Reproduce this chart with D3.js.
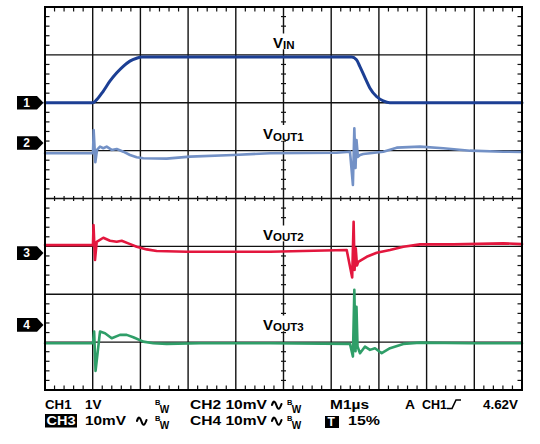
<!DOCTYPE html>
<html><head><meta charset="utf-8">
<script src="https://cdn.jsdelivr.net/npm/d3@7"></script>
<style>
html,body{margin:0;padding:0;background:#fff;}
text{font-family:"Liberation Sans",Arial,sans-serif;font-weight:bold;}
</style></head>
<body>
<svg id="c" width="540" height="444"></svg>
<script>
// ---- Data (time in µs, M1µs = 1 µs/div) ----
const ch1T = [0, 1.00, 1.08, 1.22, 1.36, 1.50, 1.64, 1.78, 1.92, 2.03, 6.43, 6.53, 6.60, 6.71, 6.81, 6.95, 7.09, 7.23, 10];
const ch1V = [0, 0, 0.06, 0.24, 0.45, 0.62, 0.76, 0.87, 0.93, 0.955, 0.955, 0.90, 0.76, 0.52, 0.31, 0.13, 0.04, 0, 0]; // V, CH1 1V/div

const ch2T = [0, 1.006, 1.020, 1.055, 1.09, 1.153, 1.222, 1.293, 1.398, 1.503, 1.642, 1.782, 1.922, 2.061, 2.551, 3.04, 3.948, 4.717, 6.115, 6.394, 6.455, 6.485, 6.510, 6.530, 6.560, 6.604, 6.673, 7.092, 7.373, 7.862, 8.350, 8.910, 9.608, 10];
const ch2V = [-2.15, -2.15, 2.72, -4.03, -1.46, -0.77, -1.11, -0.77, -1.46, -1.25, -1.82, -2.51, -2.99, -3.20, -3.28, -2.86, -2.51, -2.15, -2.03, -1.82, -8.77, 3.07, -5.22, 0.63, -2.9, -2.51, -2.30, -1.82, -0.98, -0.77, -1.11, -1.61, -1.82, -1.88]; // mV, 10mV/div

const ch3T = [0, 1.006, 1.017, 1.048, 1.084, 1.222, 1.363, 1.503, 1.608, 1.746, 1.922, 2.132, 2.342, 2.971, 4.717, 6.325, 6.440, 6.470, 6.490, 6.515, 6.540, 6.568, 6.744, 6.954, 7.233, 7.512, 7.862, 8.56, 9.608, 10];
const ch3V = [1.67, 1.67, 5.85, -1.46, 2.36, 3.20, 2.57, 2.36, 2.57, 2.03, 1.32, 0.77, 0.42, 0.27, 0.27, 0.63, -5.08, 6.54, -3.5, 1.0, -2.6, -1.82, -0.77, 0.06, 0.63, 1.32, 1.82, 1.82, 2.03, 1.88];

const ch4T = [0, 1.006, 1.03, 1.06, 1.153, 1.258, 1.398, 1.572, 1.713, 1.851, 2.061, 2.27, 2.551, 3.25, 4.717, 6.394, 6.455, 6.485, 6.510, 6.530, 6.552, 6.604, 6.709, 6.813, 6.918, 7.059, 7.233, 7.512, 7.862, 8.910, 10];
const ch4V = [-3.82, -3.82, -1.40, -9.61, -1.40, -1.73, -2.78, -2.09, -2.09, -2.57, -3.49, -3.82, -3.97, -3.82, -3.82, -3.97, -6.62, 7.31, -5.5, 3.8, -4.53, -5.91, -4.53, -5.22, -4.87, -5.91, -4.87, -3.97, -3.70, -3.82, -3.82];

// channel settings: ground marker position (divisions from centre), units per division
const channels = ["1", "2", "3", "4"];
const markerDiv = [2.0, 1.16, -1.14, -2.64];
const perDiv = [1, 10, 10, 10];
const colors = ["#1c3f94", "#7391c6", "#e3173e", "#2f9e68"];
const traceLabels = [["V", "IN"], ["V", "OUT1"], ["V", "OUT2"], ["V", "OUT3"]];

const row1 = ["CH1", "1V", "CH2 10mV", "M1µs", "A", "CH1", "4.62V"];
const row2 = ["CH3", "10mV", "CH4 10mV", "15%"];

// ---- Scales ----
const svg = d3.select("#c");
svg.append("rect").attr("width", 540).attr("height", 444).attr("fill", "#fff");
const x = d3.scaleLinear().domain([0, 10]).range([45, 522]);
const y = d3.scaleLinear().domain([-4, 4]).range([390, 7]);

// ---- Grid ----
const g = svg.append("g");
g.selectAll("line.v").data(d3.range(1, 10)).join("line")
  .attr("x1", d => x(d)).attr("x2", d => x(d)).attr("y1", y(4)).attr("y2", y(-4))
  .attr("stroke", "#111").attr("stroke-width", 1.4);
g.selectAll("line.h").data(d3.range(-3, 4)).join("line")
  .attr("y1", d => y(d)).attr("y2", d => y(d)).attr("x1", x(0)).attr("x2", x(10))
  .attr("stroke", "#111").attr("stroke-width", 1.4);

const tx = d3.range(1, 50).map(i => i / 5).filter(v => Math.abs(v - Math.round(v)) > 1e-6);
const ty = d3.range(-19, 20).map(i => i / 5).filter(v => Math.abs(v - Math.round(v)) > 1e-6);
const tk = svg.append("g").attr("stroke", "#111").attr("stroke-width", 1.2);
tx.forEach(v => {
  tk.append("line").attr("x1", x(v)).attr("x2", x(v)).attr("y1", y(4)).attr("y2", y(4) + 4.5);
  tk.append("line").attr("x1", x(v)).attr("x2", x(v)).attr("y1", y(-4)).attr("y2", y(-4) - 4.5);
  tk.append("line").attr("x1", x(v)).attr("x2", x(v)).attr("y1", y(0) - 2.5).attr("y2", y(0) + 2.5);
});
ty.forEach(v => {
  tk.append("line").attr("y1", y(v)).attr("y2", y(v)).attr("x1", x(0)).attr("x2", x(0) + 4.5);
  tk.append("line").attr("y1", y(v)).attr("y2", y(v)).attr("x1", x(10)).attr("x2", x(10) - 4.5);
  tk.append("line").attr("y1", y(v)).attr("y2", y(v)).attr("x1", x(5) - 2.5).attr("x2", x(5) + 2.5);
});

// ---- Labels (white background) ----
const labelPos = [[273, 47.5], [263, 139], [263, 239.5], [263, 329.5]];
traceLabels.forEach((lab, i) => {
  const t = svg.append("text").attr("x", labelPos[i][0]).attr("y", labelPos[i][1]).attr("fill", "#000");
  t.append("tspan").attr("font-size", 15).text(lab[0]);
  t.append("tspan").attr("font-size", 11.5).attr("dy", 1.8).text(lab[1]);
  const bb = t.node().getBBox();
  svg.insert("rect", "text").attr("x", bb.x - 1).attr("y", bb.y).attr("width", bb.width + 2).attr("height", bb.height - 2).attr("fill", "#fff");
});

// ---- Traces ----
const series = [[ch1T, ch1V], [ch2T, ch2V], [ch3T, ch3V], [ch4T, ch4V]];
series.forEach((s, i) => {
  const pts = s[0].map((t, k) => [t, s[1][k]]);
  const line = d3.line()
    .x(d => x(d[0]))
    .y(d => y(markerDiv[i] + d[1] / perDiv[i]))
    .curve(i === 0 ? d3.curveMonotoneX : d3.curveLinear);
  svg.append("path").datum(pts).attr("d", line)
    .attr("fill", "none").attr("stroke", colors[i])
    .attr("stroke-width", i === 0 ? 3 : 2.6).attr("stroke-linejoin", "round").attr("stroke-linecap", "round");
});

// ---- Border ----
svg.append("rect").attr("x", x(0)).attr("y", y(4)).attr("width", x(10) - x(0)).attr("height", y(-4) - y(4))
  .attr("fill", "none").attr("stroke", "#000").attr("stroke-width", 2);

// ---- Channel markers ----
channels.forEach((c, i) => {
  const yy = y(markerDiv[i]);
  svg.append("path")
    .attr("d", `M17,${yy - 6.8}H37L43.5,${yy}L37,${yy + 6.8}H17Z`).attr("fill", "#000");
  svg.append("text").attr("x", 26.5).attr("y", yy + 4.2).attr("text-anchor", "middle")
    .attr("font-size", 12).attr("fill", "#fff").text(c);
});

// ---- Bottom status text ----
const fs = 13;
function txt(s, xx, yy, opts = {}) {
  const t = svg.append("text").attr("x", xx).attr("y", yy).attr("font-size", opts.size || fs)
    .attr("fill", opts.fill || "#000").text(s);
  if (opts.len) t.attr("textLength", opts.len).attr("lengthAdjust", "spacingAndGlyphs");
  return t;
}
function bw(xx, yy) {
  txt("B", xx, yy - 4, { size: 7.5 });
  txt("W", xx + 4.8, yy + 4, { size: 10 });
}
function wave(xx, yy) {
  svg.append("path")
    .attr("d", `M${xx},${yy - 4}C${xx + 1.5},${yy - 9} ${xx + 3},${yy - 8} ${xx + 4.5},${yy - 3.5}S${xx + 7.5},${yy + 1} ${xx + 9.5},${yy - 5}`)
    .attr("fill", "none").attr("stroke", "#000").attr("stroke-width", 2.1).attr("stroke-linecap", "round");
}
const r1 = 409, r2 = 425;
txt(row1[0], 45, r1, { len: 26.5 });
txt(row1[1], 85, r1, { len: 16.5 });
bw(155, r1);
txt(row1[2], 190, r1, { len: 77 });
wave(272, r1);
bw(287, r1);
txt(row1[3], 330, r1, { len: 39 });
txt(row1[4], 405, r1, { len: 10 });
txt(row1[5], 422, r1, { len: 25 });
svg.append("path").attr("d", `M447,${r1 - 0.5}H452L456,${r1 - 9}H461`).attr("fill", "none").attr("stroke", "#000").attr("stroke-width", 1.6);
txt(row1[6], 483, r1, { len: 35 });

svg.append("rect").attr("x", 45).attr("y", r2 - 11).attr("width", 32).attr("height", 13.5).attr("fill", "#000");
txt(row2[0], 46.5, r2, { fill: "#fff", len: 29 });
txt(row2[1], 85, r2, { len: 41 });
wave(137, r2);
bw(155, r2);
txt(row2[2], 190, r2, { len: 77 });
wave(272, r2);
bw(287, r2);
svg.append("rect").attr("x", 325).attr("y", r2 - 9).attr("width", 14).attr("height", 12).attr("fill", "#000");
txt("T", 327.5, r2 + 1, { fill: "#fff", size: 12 });
txt(row2[3], 348, r2, { len: 32 });
</script>
</body></html>
